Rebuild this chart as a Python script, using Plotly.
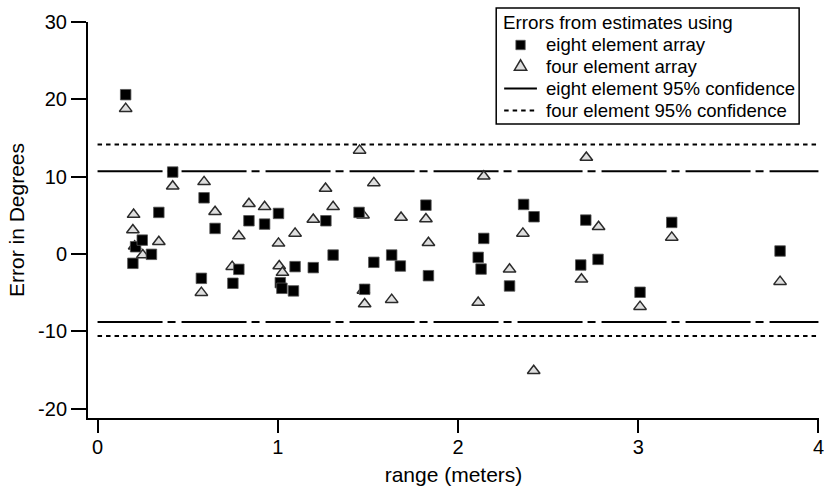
import plotly.graph_objects as go

# eight element array errors (degrees) vs range (meters)
eight_x = [0.156, 0.196, 0.211, 0.248, 0.299, 0.340, 0.417, 0.576, 0.591, 0.652,
           0.751, 0.784, 0.840, 0.927, 1.004, 1.014, 1.023, 1.087, 1.096, 1.197,
           1.267, 1.307, 1.451, 1.482, 1.533, 1.632, 1.680, 1.822, 1.836, 2.112,
           2.128, 2.143, 2.286, 2.364, 2.422, 2.681, 2.709, 2.777, 3.010, 3.186, 3.787]
eight_y = [20.6, -1.2, 0.94, 1.8, -0.04, 5.38, 10.6, -3.14, 7.27, 3.31,
           -3.78, -1.98, 4.3, 3.87, 5.25, -3.7, -4.43, -4.77, -1.63, -1.76,
           4.3, -0.13, 5.38, -4.56, -1.07, -0.13, -1.55, 6.32, -2.8, -0.43,
           -1.94, 2.02, -4.13, 6.41, 4.82, -1.42, 4.39, -0.69, -4.94, 4.09, 0.39]

# four element array errors
four_x = [0.156, 0.196, 0.200, 0.206, 0.251, 0.340, 0.417, 0.576, 0.591, 0.652,
          0.747, 0.784, 0.840, 0.927, 1.004, 1.008, 1.026, 1.096, 1.197, 1.265,
          1.307, 1.454, 1.473, 1.475, 1.482, 1.533, 1.632, 1.684, 1.822, 1.836,
          2.112, 2.143, 2.286, 2.360, 2.420, 2.685, 2.712, 2.780, 3.010, 3.186, 3.787]
four_y = [18.8, 3.1, 5.1, 1.0, -0.13, 1.59, 8.77, -4.99, 9.33, 5.46,
          -1.63, 2.32, 6.5, 6.1, 1.38, -1.55, -2.4, 2.67, 4.47, 8.47,
          6.1, 13.4, 5.03, -4.7, -6.45, 9.2, -5.9, 4.73, 4.52, 1.46,
          -6.28, 10.06, -1.98, 2.67, -15.1, -3.27, 12.47, 3.53, -6.8, 2.15, -3.57]

# 95% confidence bounds
eight_conf = [10.7, -8.8]
four_conf = [14.15, -10.6]
range_span = [0, 4]

x_ticks = [0, 1, 2, 3, 4]
x_labels = ["0", "1", "2", "3", "4"]
y_ticks = [-20, -10, 0, 10, 20, 30]
y_labels = ["-20", "-10", "0", "10", "20", "30"]

legend_title = "Errors from estimates using"
legend_labels = ["eight element array", "four element array",
                 "eight element 95% confidence", "four element 95% confidence"]

FONT = "Liberation Sans, Arial, Helvetica, sans-serif"
W, H = 824, 488
ML, MR, MT, MB = 88, 0, 22, 70
PW, PH = W - ML - MR, H - MT - MB


def px(x):  # pixel x -> paper x
    return (x - ML) / PW


def py(y):  # pixel y -> paper y
    return (H - MB - y) / PH


def span(bounds):
    xs, ys = [], []
    for i, b in enumerate(bounds):
        if i:
            xs.append(None)
            ys.append(None)
        xs += range_span
        ys += [b, b]
    return xs, ys


EIGHT_DASH = "65px,5px,8px,6px"
FOUR_DASH = "4.5px,4px"
TRI_FILL, TRI_LINE = "#dedede", "#2a2a2a"

fig = go.Figure()

ex, ey = span(eight_conf)
fig.add_trace(go.Scatter(x=ex, y=ey, mode="lines", name=legend_labels[2],
                         line=dict(color="black", width=2, dash=EIGHT_DASH),
                         showlegend=False))
fx, fy = span(four_conf)
fig.add_trace(go.Scatter(x=fx, y=fy, mode="lines", name=legend_labels[3],
                         line=dict(color="black", width=2, dash=FOUR_DASH),
                         showlegend=False))
fig.add_trace(go.Scatter(x=four_x, y=four_y, mode="markers", name=legend_labels[1],
                         marker=dict(symbol="triangle-up", size=11, color=TRI_FILL,
                                     line=dict(color=TRI_LINE, width=1.5)),
                         showlegend=False))
fig.add_trace(go.Scatter(x=eight_x, y=eight_y, mode="markers", name=legend_labels[0],
                         marker=dict(symbol="square", size=10.5, color="black",
                                     line=dict(color="#555555", width=0.8)),
                         showlegend=False))

# ---- legend box (drawn with shapes / annotations) ----
shapes = []
annotations = []
box_l, box_r, box_t, box_b = 499, 804, 8, 124
shapes.append(dict(type="rect", xref="paper", yref="paper",
                   x0=px(box_l), x1=px(box_r), y0=py(box_b), y1=py(box_t),
                   line=dict(color="black", width=1.5), fillcolor="white", layer="above"))
annotations.append(dict(text=legend_title, xref="paper", yref="paper",
                        x=px(504), y=py(23), xanchor="left", yanchor="middle",
                        showarrow=False, font=dict(size=18.8)))
row_y = [45, 66, 88.5, 110.5]
for lab, yy in zip(legend_labels, row_y):
    annotations.append(dict(text=lab, xref="paper", yref="paper",
                            x=px(547), y=py(yy), xanchor="left", yanchor="middle",
                            showarrow=False, font=dict(size=18.6)))
# square sample
cx = 523.5
shapes.append(dict(type="rect", xref="paper", yref="paper",
                   x0=px(cx - 4.7), x1=px(cx + 4.7),
                   y0=py(row_y[0] + 4.7), y1=py(row_y[0] - 4.7),
                   line=dict(color="#555555", width=0.8), fillcolor="black", layer="above"))
# triangle sample
ty = row_y[1]
tri = "M {:.5f} {:.5f} L {:.5f} {:.5f} L {:.5f} {:.5f} Z".format(
    px(cx - 6.2), py(ty + 4.2), px(cx + 6.2), py(ty + 4.2), px(cx), py(ty - 6.2))
shapes.append(dict(type="path", xref="paper", yref="paper", path=tri,
                   line=dict(color=TRI_LINE, width=1.5), fillcolor=TRI_FILL, layer="above"))
# line samples
shapes.append(dict(type="line", xref="paper", yref="paper",
                   x0=px(507), x1=px(540), y0=py(row_y[2]), y1=py(row_y[2]),
                   line=dict(color="black", width=2), layer="above"))
shapes.append(dict(type="line", xref="paper", yref="paper",
                   x0=px(507), x1=px(540), y0=py(row_y[3]), y1=py(row_y[3]),
                   line=dict(color="black", width=2, dash=FOUR_DASH), layer="above"))

fig.update_layout(
    width=W, height=H,
    margin=dict(l=ML, r=MR, t=MT, b=MB),
    paper_bgcolor="white", plot_bgcolor="white",
    font=dict(family=FONT, size=18, color="black"),
    showlegend=False,
    shapes=shapes,
    annotations=annotations,
    xaxis=dict(
        range=[-0.053, 4.003], tickvals=x_ticks, ticktext=x_labels,
        showline=True, linecolor="black", linewidth=2,
        ticks="outside", ticklen=13, tickwidth=2, tickcolor="black",
        showgrid=False, zeroline=False, ticklabeloverflow="allow",
        ticklabelstandoff=-3,
        title=dict(text="range (meters)", font=dict(size=21), standoff=10),
        tickfont=dict(size=20),
    ),
    yaxis=dict(
        range=[-21.2, 30], tickvals=y_ticks, ticktext=y_labels,
        showline=True, linecolor="black", linewidth=2,
        ticks="outside", ticklen=15, tickwidth=2, tickcolor="black",
        showgrid=False, zeroline=False,
        title=dict(text="Error in Degrees", font=dict(size=21), standoff=8),
        tickfont=dict(size=20),
    ),
)

fig.write_html("out.html")
